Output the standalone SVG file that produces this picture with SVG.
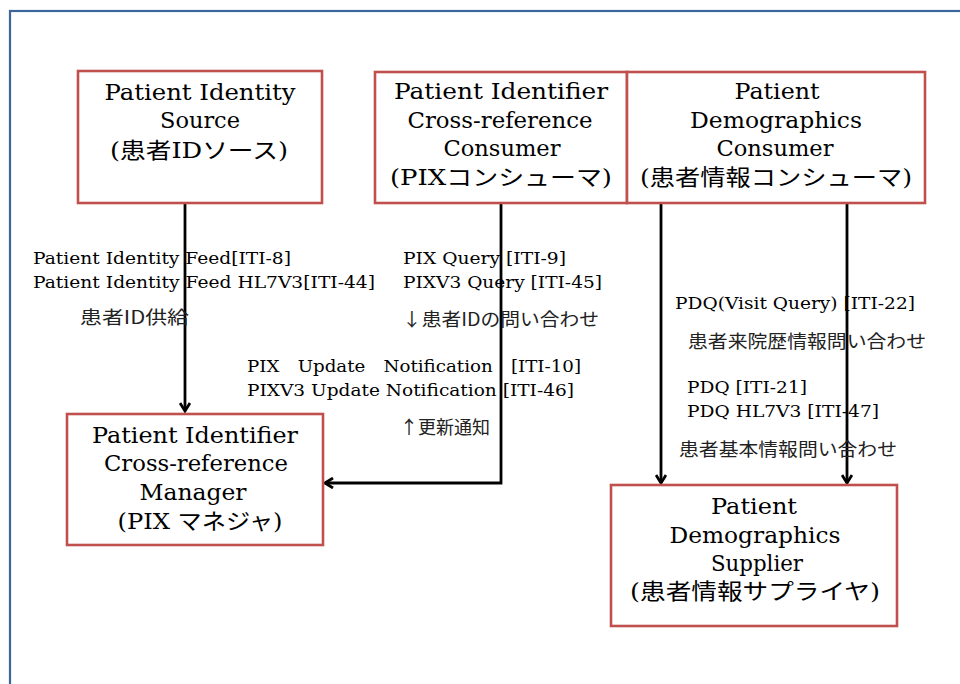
<svg xmlns="http://www.w3.org/2000/svg" width="960" height="684" viewBox="0 0 960 684">
  <style>
    .frame { fill: none; stroke: #3b679c; stroke-width: 2.2; }
    .box { fill: #ffffff; stroke: #c0504d; stroke-width: 2.6; }
    .t { font-family: "DejaVu Serif", "Liberation Serif", "Noto Sans CJK JP", serif; font-size: 22px; fill: #000; text-anchor: middle; }
    .lbl { font-family: "DejaVu Serif", "Liberation Serif", "Noto Sans CJK JP", serif; font-size: 17px; fill: #000; }
    .jp { font-family: "Noto Sans CJK JP", sans-serif; font-size: 18px; fill: #222; }
    .conn { fill: none; stroke: #000; stroke-width: 2.8; }
  </style>
  <defs>
    <marker id="arrow" viewBox="0 0 12 12" refX="10" refY="6" markerWidth="12" markerHeight="12" markerUnits="userSpaceOnUse" orient="auto">
      <path d="M2,1 L10,6 L2,11" fill="none" stroke="#000" stroke-width="2.8"/>
    </marker>
  </defs>

  <rect x="0" y="0" width="960" height="684" fill="#ffffff"/>
  <rect class="frame" x="10" y="11" width="1000" height="1000"/>

  <!-- connectors -->
  <g id="connectors">
    <path class="conn" d="M185,204 L185,411" marker-end="url(#arrow)"/>
    <path class="conn" d="M501,204 L501,483 L325,483" marker-end="url(#arrow)"/>
    <path class="conn" d="M661,204 L661,483" marker-end="url(#arrow)"/>
    <path class="conn" d="M847,204 L847,483" marker-end="url(#arrow)"/>
  </g>

  <!-- Patient Identity Source -->
  <g id="pix-source">
    <rect class="box" x="78" y="71" width="244" height="132"/>
    <text class="t" x="200" y="100" textLength="191" lengthAdjust="spacingAndGlyphs">Patient Identity</text>
    <text class="t" x="200" y="128" textLength="80" lengthAdjust="spacingAndGlyphs">Source</text>
    <text class="t" x="199" y="158" textLength="178" lengthAdjust="spacingAndGlyphs">(患者IDソース)</text>
  </g>

  <!-- PIX Consumer -->
  <g id="pix-consumer">
    <rect class="box" x="375" y="72" width="252" height="131"/>
    <text class="t" x="501" y="99" textLength="214" lengthAdjust="spacingAndGlyphs">Patient  Identifier</text>
    <text class="t" x="500" y="128" textLength="185" lengthAdjust="spacingAndGlyphs">Cross-reference</text>
    <text class="t" x="502" y="156" textLength="117" lengthAdjust="spacingAndGlyphs">Consumer</text>
    <text class="t" x="501" y="185" textLength="222" lengthAdjust="spacingAndGlyphs">(PIXコンシューマ)</text>
  </g>

  <!-- Patient Demographics Consumer -->
  <g id="pd-consumer">
    <rect class="box" x="627" y="72" width="298" height="131"/>
    <text class="t" x="777" y="99" textLength="85" lengthAdjust="spacingAndGlyphs">Patient</text>
    <text class="t" x="776" y="128" textLength="172" lengthAdjust="spacingAndGlyphs">Demographics</text>
    <text class="t" x="775" y="156" textLength="117" lengthAdjust="spacingAndGlyphs">Consumer</text>
    <text class="t" x="776" y="185" textLength="272" lengthAdjust="spacingAndGlyphs">(患者情報コンシューマ)</text>
  </g>

  <!-- PIX Manager -->
  <g id="pix-manager">
    <rect class="box" x="67" y="414" width="256" height="131"/>
    <text class="t" x="195" y="443" textLength="206" lengthAdjust="spacingAndGlyphs">Patient Identifier</text>
    <text class="t" x="196" y="471" textLength="184" lengthAdjust="spacingAndGlyphs">Cross-reference</text>
    <text class="t" x="193" y="500" textLength="107" lengthAdjust="spacingAndGlyphs">Manager</text>
    <text class="t" x="200" y="529" textLength="165" lengthAdjust="spacingAndGlyphs">(PIX マネジャ)</text>
  </g>

  <!-- Patient Demographics Supplier -->
  <g id="pd-supplier">
    <rect class="box" x="611" y="485" width="286" height="141"/>
    <text class="t" x="754" y="514" textLength="86" lengthAdjust="spacingAndGlyphs">Patient</text>
    <text class="t" x="755" y="543" textLength="171" lengthAdjust="spacingAndGlyphs">Demographics</text>
    <text class="t" x="757" y="571" textLength="92" lengthAdjust="spacingAndGlyphs">Supplier</text>
    <text class="t" x="755" y="599" textLength="250" lengthAdjust="spacingAndGlyphs">(患者情報サプライヤ)</text>
  </g>

  <!-- transaction labels -->
  <g id="labels">
    <text class="lbl" x="33" y="264" textLength="258" lengthAdjust="spacingAndGlyphs">Patient Identity Feed[ITI-8]</text>
    <text class="lbl" x="33" y="288" textLength="342" lengthAdjust="spacingAndGlyphs">Patient Identity Feed HL7V3[ITI-44]</text>
    <text class="jp" x="80" y="324" textLength="109" lengthAdjust="spacingAndGlyphs">患者ID供給</text>

    <text class="lbl" x="403" y="264" textLength="163" lengthAdjust="spacingAndGlyphs">PIX Query [ITI-9]</text>
    <text class="lbl" x="403" y="288" textLength="199" lengthAdjust="spacingAndGlyphs">PIXV3 Query [ITI-45]</text>
    <text class="jp" x="402" y="326" textLength="197" lengthAdjust="spacingAndGlyphs">↓患者IDの問い合わせ</text>

    <text class="lbl" x="247" y="372" textLength="334" lengthAdjust="spacingAndGlyphs">PIX　Update　Notification　[ITI-10]</text>
    <text class="lbl" x="247" y="396" textLength="327" lengthAdjust="spacingAndGlyphs">PIXV3 Update Notification [ITI-46]</text>
    <text class="jp" x="400" y="434" textLength="90" lengthAdjust="spacingAndGlyphs">↑更新通知</text>

    <text class="lbl" x="675" y="309" textLength="240" lengthAdjust="spacingAndGlyphs">PDQ(Visit Query) [ITI-22]</text>
    <text class="jp" x="688" y="348" textLength="238" lengthAdjust="spacingAndGlyphs">患者来院歴情報問い合わせ</text>
    <text class="lbl" x="687" y="393" textLength="120" lengthAdjust="spacingAndGlyphs">PDQ [ITI-21]</text>
    <text class="lbl" x="687" y="417" textLength="192" lengthAdjust="spacingAndGlyphs">PDQ HL7V3 [ITI-47]</text>
    <text class="jp" x="679" y="456" textLength="218" lengthAdjust="spacingAndGlyphs">患者基本情報問い合わせ</text>
  </g>
</svg>
